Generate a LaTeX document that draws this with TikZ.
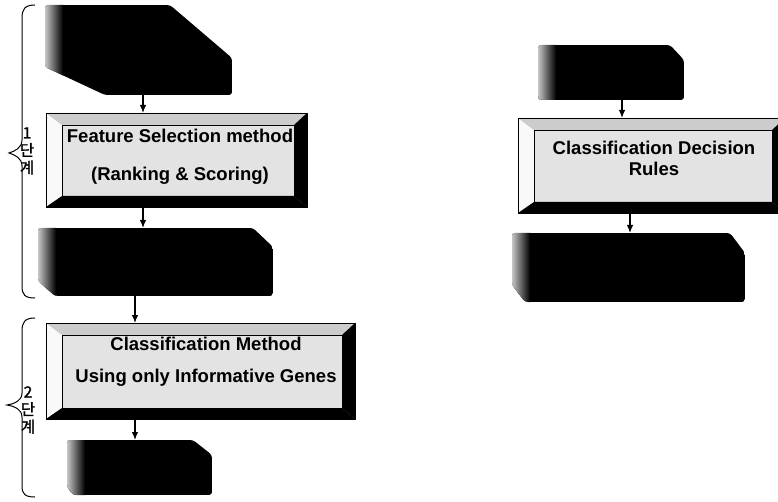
\documentclass[tikz,border=0pt]{standalone}
\usepackage{fontspec}
\setmainfont{Liberation Sans}
\newfontfamily\kofont[FakeBold=1.5]{Noto Sans CJK KR}
\usetikzlibrary{arrows.meta}

\tikzset{
	% black block with cut corners (w, h, cut NE x/y, cut SW x/y)
	darkbox/.style n args={6}{rectangle, inner sep=0pt, outer sep=0pt,
		minimum width=#1, minimum height=#2,
		path picture={
			\path[clip, rounded corners=3pt] (path picture bounding box.north west)
				-- ([xshift=-#3]path picture bounding box.north east)
				-- ([yshift=-#4]path picture bounding box.north east)
				-- (path picture bounding box.south east)
				-- ([xshift=#5]path picture bounding box.south west)
				-- ([yshift=#6]path picture bounding box.south west) -- cycle;
			\fill[black] (path picture bounding box.south west) rectangle (path picture bounding box.north east);
			\shade[left color=gray!45, right color=black] (path picture bounding box.south west)
				rectangle ([xshift=18pt]path picture bounding box.north west);
		}},
	bevelbox/.style 2 args={rectangle, fill=gray!22, inner sep=0pt, outer sep=0pt,
		minimum width=#1, minimum height=#2},
	boxtext/.style={font=\bfseries\fontsize{18.5}{#1}\selectfont, align=center, inner sep=0pt},
	stagetag/.style={font=\kofont\fontsize{15.5}{17.5}\selectfont, align=center, inner sep=0pt},
	flow/.style={draw, line width=1.3pt, -{Latex[length=8pt,width=6.5pt]}},
}

% raised frame round a bevel box
\newcommand\bevelframe[1]{%
	\fill[gray!5] (#1.north west) -- ([shift={(16,12)}]#1.north west)
		-- ([shift={(16,-11)}]#1.south west) -- (#1.south west) -- cycle;
	\fill[gray!40] (#1.north west) -- (#1.north east)
		-- ([shift={(-13,12)}]#1.north east) -- ([shift={(16,12)}]#1.north west) -- cycle;
	\fill[black] (#1.north east) -- (#1.south east)
		-- ([shift={(-13,-11)}]#1.south east) -- ([shift={(-13,12)}]#1.north east) -- cycle;
	\fill[black] (#1.south west) -- (#1.south east)
		-- ([shift={(-13,-11)}]#1.south east) -- ([shift={(16,-11)}]#1.south west) -- cycle;
	\draw[line width=0.8pt] (#1.north west) rectangle (#1.south east);
	\draw[line width=0.5pt] ([shift={(16,12)}]#1.north west) rectangle ([shift={(-13,-11)}]#1.south east);
}

\begin{document}
\begin{tikzpicture}[x=1pt, y=-1pt]
		\useasboundingbox (0,0) rectangle (778,502);

		% stage 1
		\draw (138.5,50) node [darkbox={187}{90}{62}{53}{60}{28}] (a) {};
		\draw (176.5,160) node [bevelbox={261}{94}] (feat) {};
		\draw (180,157) node [boxtext=38pt] (feat-text) {Feature Selection method\\(Ranking \& Scoring)};
		\bevelframe{feat}
		\draw (155.5,262) node [darkbox={235}{68}{20}{19}{17}{15}] (b) {};

		% stage 2
		\draw (200.5,371) node [bevelbox={309}{96}] (cls) {};
		\draw (206,362) node [boxtext=32pt] (cls-text) {Classification Method\\Using only Informative Genes};
		\bevelframe{cls}
		\draw (139.5,467.5) node [darkbox={145}{55}{19}{15}{6}{8}] (c) {};

		% decision rules
		\draw (611,72.5) node [darkbox={146}{55}{14}{15}{2}{2}] (d) {};
		\draw (651.5,165.5) node [bevelbox={267}{95}] (dec) {};
		\draw (654,158) node [boxtext=21pt] (dec-text) {Classification Decision\\Rules};
		\bevelframe{dec}
		\draw (628.5,267.5) node [darkbox={233}{69}{15}{20}{13}{17}] (e) {};

		\draw
			([xshift=4.5pt]a.south) edge [flow] ([xshift=-33.5pt]feat.north)
			([xshift=-33.5pt]feat.south) edge [flow] ([xshift=-12.5pt]b.north)
			([xshift=-20.5pt]b.south) edge [flow] ([xshift=-65.5pt]cls.north)
			([xshift=-65.5pt]cls.south) edge [flow] ([xshift=-4.5pt]c.north)
			([xshift=11pt]d.south) edge [flow] ([xshift=-29.5pt]dec.north)
			([xshift=-21.5pt]dec.south) edge [flow] ([xshift=1.5pt]e.north)
		;

		% stage braces
		\draw[line width=1pt] (35,5) .. controls (25,5) and (22,9) .. (22,18) -- (22,140)
			.. controls (22,148) and (15,151) .. (9,153) .. controls (15,155) and (22,158) .. (22,166)
			-- (22,286) .. controls (22,295) and (25,298) .. (35,298);
		\draw[line width=1pt] (35,318) .. controls (25,318) and (22,322) .. (22,331) -- (22,393)
			.. controls (22,401) and (14,404) .. (7,405) .. controls (14,406) and (22,409) .. (22,417)
			-- (22,486) .. controls (22,494) and (25,497) .. (35,497);
		\draw (27,151) node [stagetag] (stage1) {1\\단\\계};
		\draw (28,410) node [stagetag] (stage2) {2\\단\\계};
	\end{tikzpicture}
\end{document}
